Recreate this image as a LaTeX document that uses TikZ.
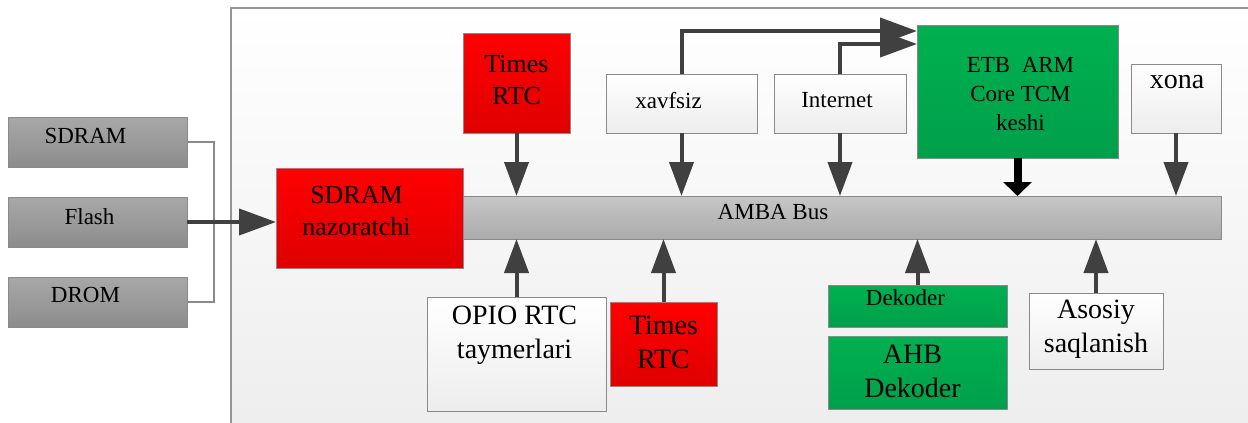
\documentclass[tikz,border=0pt]{standalone}
\usepackage{fontspec}
\IfFontExistsTF{LiberationSerif}{\setmainfont{LiberationSerif}}{\setmainfont{Liberation Serif}}
\usetikzlibrary{arrows.meta}

\definecolor{redtop}{HTML}{FF0000}
\definecolor{redbot}{HTML}{DF0000}
\definecolor{greentop}{HTML}{00B050}
\definecolor{greenbot}{HTML}{00A04A}
\definecolor{graytop}{HTML}{A8A8A8}
\definecolor{graybot}{HTML}{8C8C8C}
\definecolor{bustop}{HTML}{C6C6C6}
\definecolor{busbot}{HTML}{ABABAB}
\definecolor{paletop}{HTML}{FFFFFF}
\definecolor{palebot}{HTML}{EDEDED}
\definecolor{edgegray}{HTML}{8A8A8A}
\definecolor{arrowgray}{HTML}{404040}

\begin{document}
\begin{tikzpicture}[x=1pt,y=-1pt,
    box/.style={draw=edgegray, line width=1pt, anchor=north west, inner sep=0pt, outer sep=0pt},
    redbox/.style={box, top color=redtop, bottom color=redbot},
    greenbox/.style={box, top color=greentop, bottom color=greenbot},
    graybox/.style={box, top color=graytop, bottom color=graybot},
    palebox/.style={box, top color=paletop, bottom color=palebot},
    small/.style={font=\rmfamily\fontsize{23pt}{29pt}\selectfont, align=center, inner sep=0pt},
    medium/.style={font=\rmfamily\fontsize{26pt}{32pt}\selectfont, align=center, inner sep=0pt},
    large/.style={font=\rmfamily\fontsize{28pt}{34pt}\selectfont, align=center, inner sep=0pt},
    bigarrow/.style={draw=arrowgray, line width=4pt, -{Triangle[length=34pt,width=24pt]}},
    sidearrow/.style={draw=arrowgray, line width=4pt, -{Triangle[length=37pt,width=26pt]}},
    thinline/.style={draw=edgegray, line width=1.5pt}]
    \useasboundingbox (0,0) rectangle (1248,423);
    \clip (0,0) rectangle (1248,423);

    % Panel
    \draw [draw=edgegray!90, line width=1.5pt, top color=paletop, bottom color=palebot] (231,8) rectangle (1270,445);

    % Memories
    \node (sdram) [graybox, minimum width=179pt, minimum height=50pt, label={[small, xshift=-12pt, yshift=6pt]center:SDRAM}] at (8,117) {};
    \node (flash) [graybox, minimum width=179pt, minimum height=50pt, label={[small, xshift=-8pt, yshift=5pt]center:Flash}] at (8,197) {};
    \node (drom) [graybox, minimum width=179pt, minimum height=50pt, label={[small, xshift=-12pt, yshift=7pt]center:DROM}] at (8,277) {};

    % Bus and controller
    \node (bus) [box, top color=bustop, bottom color=busbot, minimum width=758pt, minimum height=43pt, label={[small, xshift=-69pt, yshift=5pt]center:AMBA Bus}] at (463,196) {};
    \node (ctrl) [redbox, minimum width=187pt, minimum height=100pt, label={[medium, xshift=-13pt, yshift=7pt]center:SDRAM\\nazoratchi}] at (276,168) {};

    % Top row
    \node (rtctop) [redbox, minimum width=107pt, minimum height=100pt, label={[medium, yshift=3pt]center:Times\\RTC}] at (463,33) {};
    \node (xav) [palebox, minimum width=151pt, minimum height=59pt, label={[small, xshift=-13pt, yshift=3pt]center:xavfsiz}] at (606,74) {};
    \node (inet) [palebox, minimum width=132pt, minimum height=59pt, label={[small, xshift=-3pt, yshift=3pt]center:Internet}] at (774,74) {};
    \node (etb) [greenbox, minimum width=201pt, minimum height=133pt, label={[small, xshift=3pt, yshift=-3pt]center:ETB~~ARM\\Core TCM\\keshi}] at (917,25) {};
    \node (xona) [palebox, minimum width=90pt, minimum height=69pt, label={[large, xshift=1pt, yshift=16pt]center:xona}] at (1131,64) {};

    % Bottom row
    \node (opio) [palebox, minimum width=179pt, minimum height=114pt, label={[large, xshift=-2pt, yshift=19pt]center:OPIO RTC\\taymerlari}] at (427,297) {};
    \node (rtcbot) [redbox, minimum width=107pt, minimum height=84pt, label={[large, yshift=2pt]center:Times\\RTC}] at (610,302) {};
    \node (dek) [greenbox, minimum width=179pt, minimum height=42pt, label={[small, xshift=-12pt, yshift=8pt]center:Dekoder}] at (828,285) {};
    \node (ahb) [greenbox, minimum width=179pt, minimum height=73pt, label={[large, xshift=-5pt, yshift=1pt]center:AHB\\Dekoder}] at (828,336) {};
    \node (asosiy) [palebox, minimum width=134pt, minimum height=76pt, label={[large, yshift=2pt]center:Asosiy\\saqlanish}] at (1029,293) {};

    % Connections
    \draw [thinline] (sdram.east) -- ++(27,0) |- (drom.east);
    \draw [sidearrow] (flash.east) -- (flash.east -| ctrl.west);
    \draw [sidearrow] (xav.north) |- ([yshift=-6pt]etb.north west);
    \draw [sidearrow] (inet.north) |- ([yshift=-19pt]etb.north west);

    \draw [bigarrow] (rtctop.south) -- (rtctop.south |- bus.north);
    \draw [bigarrow] (xav.south) -- (xav.south |- bus.north);
    \draw [bigarrow] (inet.south) -- (inet.south |- bus.north);
    \draw [bigarrow] (xona.south) -- (xona.south |- bus.north);
    \draw [draw=black, line width=8pt, -{Triangle[length=14pt,width=28pt]}] (etb.south) -- (etb.south |- bus.north);

    \draw [bigarrow] (opio.north) -- (opio.north |- bus.south);
    \draw [bigarrow] (rtcbot.north) -- (rtcbot.north |- bus.south);
    \draw [bigarrow] (dek.north) -- (dek.north |- bus.south);
    \draw [bigarrow] (asosiy.north) -- (asosiy.north |- bus.south);
\end{tikzpicture}
\end{document}
